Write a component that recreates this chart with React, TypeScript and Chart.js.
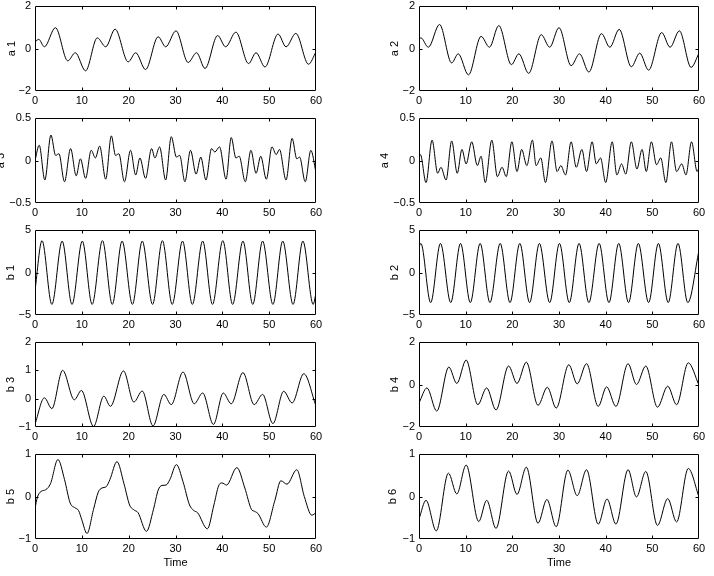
import React, { useEffect, useRef } from 'react';
import { Chart, registerables } from 'chart.js';

Chart.register(...registerables);

type Pt = [number, number];

const FONT_FAMILY = '"Liberation Sans", Arial, Helvetica, sans-serif';

// ---- tick labels ----
const timeTicks = [0, 10, 20, 30, 40, 50, 60];
const ticksA12 = [-2, 0, 2];
const ticksA34 = [-0.5, 0, 0.5];
const ticksB12 = [-5, 0, 5];
const ticksB3 = [-1, 0, 1, 2];
const ticksB4 = [-2, 0, 2];
const ticksB56 = [-1, 0, 1];

// ---- series values (time, value) ----
const a1: Pt[] = [
  [0, 0.31], [0.8, 0.43], [2, 0.08], [4.36, 0.98], [7, -0.58], [8.6, -0.2], [10.8, -1.05],
  [13.3, 0.5], [15.1, 0.08], [17.1, 0.91], [19.9, -0.63], [21.5, -0.2], [23.6, -0.99],
  [26.3, 0.55], [27.9, 0.08], [30.1, 0.83], [32.7, -0.66], [34.5, -0.2], [36.3, -0.94],
  [39, 0.61], [40.7, 0.08], [42.9, 0.77], [45.6, -0.71], [47.2, -0.2], [49.1, -0.87],
  [51.9, 0.68], [53.6, 0.08], [55.7, 0.71], [58.4, -0.74], [60, -0.16],
];

const a2: Pt[] = [
  [0, 0.46], [0.4, 0.5], [2, 0.06], [4.4, 1.13], [7, -0.68], [8.4, -0.25], [10.6, -1.24],
  [13.3, 0.57], [15.1, 0.06], [17.1, 1.08], [19.8, -0.76], [21.4, -0.25], [23.5, -1.17],
  [26.2, 0.65], [28, 0.06], [30, 0.98], [32.6, -0.81], [34.4, -0.25], [36.4, -1.11],
  [39.1, 0.7], [40.9, 0.06], [42.9, 0.9], [45.5, -0.86], [47.3, -0.22], [49.2, -1.02],
  [52, 0.75], [53.8, 0.06], [55.8, 0.83], [58.3, -0.89], [60, -0.22],
];

const a3: Pt[] = [
  [0, 0], [0.9, 0.18], [2.1, -0.23], [3.4, 0.3], [4.4, 0.06], [5.1, 0.08], [6.3, -0.25],
  [7.6, 0.14], [8.8, -0.18], [9.7, 0.02], [10.8, -0.21], [12, 0.12], [12.9, 0.03], [13.8, 0.17],
  [15.1, -0.22], [16.3, 0.29], [17.2, 0.06], [17.9, 0.08], [19.1, -0.25], [20.4, 0.12],
  [21.5, -0.17], [22.4, 0.03], [23.6, -0.21], [24.9, 0.14], [25.6, 0.03], [26.6, 0.16],
  [27.9, -0.23], [29.1, 0.28], [30.2, 0.04], [30.9, 0.06], [32, -0.25], [33.2, 0.12],
  [34.4, -0.16], [35.4, 0.04], [36.5, -0.23], [37.7, 0.14], [38.4, 0.1], [39.4, 0.16],
  [40.8, -0.22], [41.9, 0.27], [42.9, 0.03], [43.6, 0.05], [44.9, -0.25], [46.1, 0.12],
  [47.2, -0.15], [48.2, 0.05], [49.4, -0.22], [50.6, 0.16], [51.5, 0.07], [52.2, 0.13],
  [53.6, -0.23], [54.9, 0.26], [55.9, 0.02], [56.5, 0.04], [57.7, -0.25], [58.9, 0.12], [60, -0.14],
];

const a4: Pt[] = [
  [0, 0.04], [0.3, 0.07], [1.5, -0.26], [2.8, 0.24], [4, -0.15], [4.7, -0.08], [5.8, -0.23],
  [7, 0.23], [8.2, -0.15], [9.2, 0.13], [10.1, -0.04], [11.3, 0.22], [12.5, -0.06], [13.3, 0.05],
  [14.2, -0.26], [15.6, 0.24], [16.8, -0.19], [17.8, -0.08], [18.7, -0.19], [19.9, 0.22],
  [21, -0.13], [22, 0.13], [23.1, -0.06], [24.3, 0.24], [25.1, -0.06], [26.1, 0.03],
  [27.1, -0.26], [28.5, 0.23], [29.6, -0.13], [30.4, -0.06], [31.4, -0.17], [32.6, 0.22],
  [33.7, -0.08], [34.9, 0.13], [35.9, -0.13], [37.1, 0.22], [38, -0.04], [38.9, 0.03],
  [40, -0.26], [41.4, 0.22], [42.4, -0.17], [43.4, -0.04], [44.3, -0.16], [45.5, 0.22],
  [46.7, -0.1], [47.8, 0.13], [48.7, -0.13], [49.8, 0.22], [50.9, -0.05], [51.8, 0.03],
  [52.9, -0.26], [54.1, 0.22], [55.2, -0.13], [56.3, -0.04], [57.2, -0.17], [58.4, 0.22],
  [59.6, -0.13], [60, -0.08],
];

const b1: Pt[] = [
  [0, -2.1], [1.5, 3.75], [3.6, -3.75], [5.8, 3.7], [7.9, -3.75], [10.1, 3.7], [12.2, -3.75],
  [14.4, 3.75], [16.5, -3.75], [18.6, 3.7], [20.8, -3.75], [22.9, 3.7], [25.1, -3.75],
  [27.2, 3.75], [29.3, -3.75], [31.5, 3.7], [33.6, -3.75], [35.8, 3.7], [37.9, -3.75],
  [40.1, 3.75], [42.2, -3.75], [44.4, 3.7], [46.5, -3.75], [48.6, 3.7], [50.8, -3.75],
  [52.9, 3.7], [55.1, -3.75], [57.2, 3.7], [59.4, -3.75], [60, -2.4],
];

const b2: Pt[] = [
  [0, 3.0], [0.4, 3.42], [2.5, -3.54], [4.6, 3.42], [6.8, -3.54], [8.9, 3.42], [11, -3.54],
  [13.1, 3.42], [15.2, -3.54], [17.4, 3.42], [19.5, -3.54], [21.6, 3.42], [23.7, -3.54],
  [25.8, 3.42], [28, -3.54], [30.1, 3.42], [32.2, -3.54], [34.3, 3.42], [36.4, -3.54],
  [38.6, 3.42], [40.7, -3.54], [42.8, 3.42], [44.9, -3.54], [47, 3.42], [49.2, -3.54],
  [51.3, 3.42], [53.4, -3.54], [55.5, 3.42], [57.6, -3.54], [60, 2.6],
];

const b3: Pt[] = [
  [0, -0.9], [2, 0.03], [3.6, -0.35], [5.9, 1.0], [8.4, -0.04], [9.9, 0.29], [12.5, -0.98],
  [14.7, 0.09], [16.1, -0.27], [18.9, 0.98], [21.1, -0.12], [22.9, 0.27], [25.2, -0.96],
  [27.5, 0.15], [29.1, -0.21], [31.6, 0.94], [34, -0.18], [35.8, 0.2], [38.1, -0.91],
  [40.2, 0.2], [41.9, -0.18], [44.4, 0.92], [46.8, -0.21], [48.6, 0.15], [50.8, -0.88],
  [53.1, 0.26], [54.9, -0.15], [57.4, 0.88], [60, -0.26],
];

const b4: Pt[] = [
  [0, -0.87], [1.7, -0.16], [3.8, -1.25], [6.4, 0.82], [8.1, 0.05], [10.1, 1.15], [12.6, -0.95],
  [14.5, -0.16], [16.5, -1.2], [19.2, 0.87], [21, 0.05], [23, 1.05], [25.5, -0.98],
  [27.5, -0.13], [29.4, -1.11], [32.1, 0.93], [33.9, 0.03], [35.9, 0.98], [38.4, -1.03],
  [40.2, -0.11], [42.2, -1.03], [44.8, 0.98], [46.6, 0.0], [48.6, 0.87], [51.1, -1.07],
  [53.3, -0.08], [55.2, -0.95], [57.7, 1.02], [60, -0.03],
];

const b5: Pt[] = [
  [0, -0.28], [0.5, -0.02], [1.3, 0.12], [2.3, 0.16], [3.3, 0.3], [4.9, 0.87], [6.3, 0.4],
  [7.5, -0.15], [8.6, -0.27], [9.3, -0.33], [10, -0.55], [11.1, -0.87], [12.5, -0.3],
  [13.5, 0.1], [14.3, 0.2], [15.2, 0.23], [16, 0.4], [17.5, 0.82], [19, 0.3], [20.2, -0.2],
  [21.2, -0.32], [22, -0.38], [23.8, -0.82], [25.3, -0.3], [26.3, 0.15], [27.1, 0.26],
  [28, 0.27], [28.8, 0.4], [30.2, 0.75], [31.6, 0.35], [33, -0.2], [33.9, -0.33], [34.7, -0.38],
  [36.8, -0.76], [38.2, -0.2], [39.2, 0.25], [39.9, 0.32], [40.9, 0.27], [43.1, 0.68],
  [44.8, 0.2], [46.2, -0.3], [46.9, -0.35], [47.6, -0.4], [49.4, -0.72], [51.2, -0.1],
  [52.5, 0.37], [53.8, 0.29], [55.9, 0.63], [57.5, 0.0], [59.1, -0.44], [60, -0.38],
];

const b6: Pt[] = [
  [0, -0.53], [1.5, -0.09], [3.7, -0.81], [6.3, 0.55], [8.1, 0.06], [10.1, 0.74], [12.8, -0.59],
  [14.5, -0.09], [16.5, -0.75], [19.2, 0.6], [21, 0.05], [23, 0.69], [25.5, -0.63],
  [27.4, -0.07], [29.4, -0.71], [31.9, 0.62], [33.9, 0.02], [35.9, 0.63], [38.4, -0.65],
  [40.3, -0.06], [42.2, -0.65], [44.8, 0.63], [46.6, -0.01], [48.6, 0.59], [51.1, -0.68],
  [53.3, -0.05], [55.2, -0.6], [57.7, 0.66], [60, -0.01],
];

interface PanelSpec {
  label: string;
  data: Pt[];
  yTicks: number[];
  col: number;
  row: number;
  titleX: number;
  time?: boolean;
}

const panels: PanelSpec[] = [
  { label: 'a 1', data: a1, yTicks: ticksA12, col: 0, row: 0, titleX: 11.5 },
  { label: 'a 2', data: a2, yTicks: ticksA12, col: 1, row: 0, titleX: 395.3 },
  { label: 'a 3', data: a3, yTicks: ticksA34, col: 0, row: 1, titleX: 1.3 },
  { label: 'a 4', data: a4, yTicks: ticksA34, col: 1, row: 1, titleX: 384.7 },
  { label: 'b 1', data: b1, yTicks: ticksB12, col: 0, row: 2, titleX: 11.3 },
  { label: 'b 2', data: b2, yTicks: ticksB12, col: 1, row: 2, titleX: 395 },
  { label: 'b 3', data: b3, yTicks: ticksB3, col: 0, row: 3, titleX: 11.3 },
  { label: 'b 4', data: b4, yTicks: ticksB4, col: 1, row: 3, titleX: 395 },
  { label: 'b 5', data: b5, yTicks: ticksB56, col: 0, row: 4, titleX: 10.5, time: true },
  { label: 'b 6', data: b6, yTicks: ticksB56, col: 1, row: 4, titleX: 393, time: true },
];

// ---- layout (pixels) ----
const ROW_TOPS = [6, 118, 230, 342, 454];
const PLOT_H = 85;
const COLS = [
  { canvasLeft: 0, canvasWidth: 345, plotLeft: 35, plotWidth: 281 },
  { canvasLeft: 360, canvasWidth: 354, plotLeft: 419, plotWidth: 280 },
];
const Y_AXIS_W = 35;
const TOP_PAD = 12;

const fmt = (v: number | string) => {
  const n = Number(v);
  return n < 0 ? '\u2212' + String(Math.abs(n)) : String(n);
};

const boxPlugin = {
  id: 'matlabBox',
  afterDatasetsDraw(chart: any) {
    const { ctx, chartArea: a, scales } = chart;
    const xs = scales.x;
    const ys = scales.y;
    const L = Math.round(a.left) + 0.5;
    const R = Math.round(a.right) - 0.5;
    const T = Math.round(a.top) + 0.5;
    const B = Math.round(a.bottom) - 0.5;
    ctx.save();
    ctx.strokeStyle = '#000';
    ctx.lineWidth = 1;
    ctx.beginPath();
    ctx.rect(L, T, R - L, B - T);
    const tl = 3;
    xs.ticks.forEach((t: any) => {
      const px = Math.round(xs.getPixelForValue(t.value)) + 0.5;
      if (px <= L + 1 || px >= R - 1) return;
      ctx.moveTo(px, B);
      ctx.lineTo(px, B - tl);
      ctx.moveTo(px, T);
      ctx.lineTo(px, T + tl);
    });
    ys.ticks.forEach((t: any) => {
      const py = Math.round(ys.getPixelForValue(t.value)) + 0.5;
      if (py <= T + 1 || py >= B - 1) return;
      ctx.moveTo(L, py);
      ctx.lineTo(L + tl, py);
      ctx.moveTo(R, py);
      ctx.lineTo(R - tl, py);
    });
    ctx.stroke();
    ctx.restore();
  },
};

function Panel({ spec }: { spec: PanelSpec }) {
  const ref = useRef<HTMLCanvasElement | null>(null);
  const col = COLS[spec.col];
  const plotTop = ROW_TOPS[spec.row];
  const xAxisH = spec.time ? 34 : 22;
  const canvasTop = plotTop - TOP_PAD;
  const canvasH = TOP_PAD + PLOT_H + xAxisH;

  useEffect(() => {
    if (!ref.current) return;
    const font = { family: FONT_FAMILY, size: 11 };
    const padLeft = col.plotLeft - col.canvasLeft - Y_AXIS_W;
    const padRight = col.canvasLeft + col.canvasWidth - (col.plotLeft + col.plotWidth);
    const scaleLeftAbs = col.plotLeft - Y_AXIS_W;
    const titlePad = spec.titleX - scaleLeftAbs - (11 * 1.2) / 2;
    const yMin = spec.yTicks[0];
    const yMax = spec.yTicks[spec.yTicks.length - 1];

    const chart = new Chart(ref.current, {
      type: 'line',
      data: {
        datasets: [
          {
            data: spec.data.map(([x, y]) => ({ x, y })),
            borderColor: '#000',
            borderWidth: 1,
            pointRadius: 0,
            fill: false,
            tension: 0.4,
            cubicInterpolationMode: 'monotone',
          },
        ],
      },
      options: {
        animation: false,
        responsive: false,
        events: [],
        layout: { padding: { left: padLeft, right: padRight, top: TOP_PAD, bottom: 0 } },
        plugins: { legend: { display: false }, tooltip: { enabled: false } },
        scales: {
          x: {
            type: 'linear',
            min: 0,
            max: 60,
            grid: { display: false, drawTicks: false },
            border: { display: false },
            afterBuildTicks: (s: any) => {
              s.ticks = timeTicks.map((v) => ({ value: v }));
            },
            afterFit: (s: any) => {
              s.height = xAxisH;
            },
            ticks: {
              font,
              color: '#000',
              padding: 3,
              maxRotation: 0,
              autoSkip: false,
              callback: (v: any) => fmt(v),
            },
            title: {
              display: !!spec.time,
              text: 'Time',
              font,
              color: '#000',
              padding: { top: 0, bottom: 3.4 },
            },
          },
          y: {
            type: 'linear',
            min: yMin,
            max: yMax,
            grid: { display: false, drawTicks: false },
            border: { display: false },
            afterBuildTicks: (s: any) => {
              s.ticks = spec.yTicks.map((v) => ({ value: v }));
            },
            afterFit: (s: any) => {
              s.width = Y_AXIS_W;
            },
            ticks: {
              font,
              color: '#000',
              padding: 4,
              autoSkip: false,
              callback: (v: any) => fmt(v),
            },
            title: {
              display: true,
              text: spec.label,
              font,
              color: '#000',
              padding: { top: titlePad, bottom: 0 },
            },
          },
        },
      } as any,
      plugins: [boxPlugin],
    } as any);
    return () => chart.destroy();
  }, []);

  return (
    <canvas
      ref={ref}
      width={col.canvasWidth}
      height={canvasH}
      style={{
        position: 'absolute',
        left: col.canvasLeft,
        top: canvasTop,
        width: col.canvasWidth,
        height: canvasH,
      }}
    />
  );
}

export default function App() {
  return (
    <div style={{ position: 'absolute', left: 0, top: 0, width: 714, height: 576, background: '#fff' }}>
      {panels.map((p) => (
        <Panel key={p.label} spec={p} />
      ))}
    </div>
  );
}
